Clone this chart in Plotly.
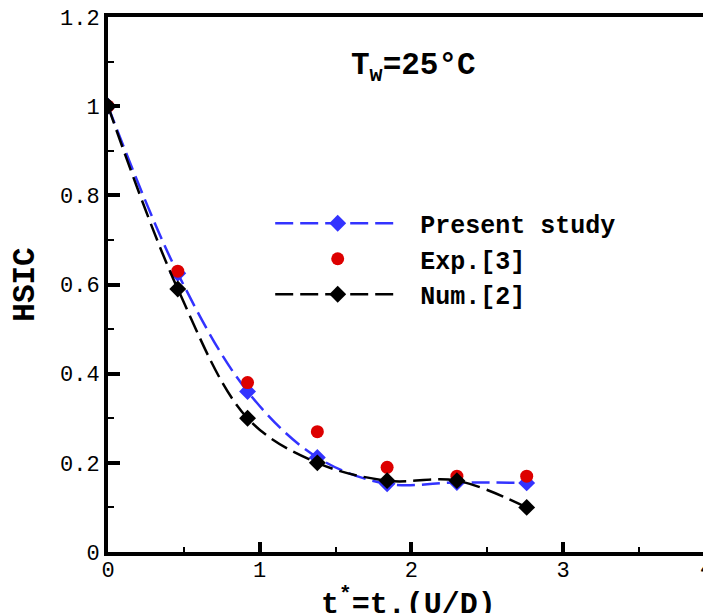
import plotly.graph_objects as go

t_star = [0.0, 0.46, 0.92, 1.38, 1.84, 2.30, 2.76]
present_study = [1.0, 0.625, 0.36, 0.212, 0.153, 0.156, 0.155]
exp3 = [1.0, 0.63, 0.38, 0.27, 0.19, 0.17, 0.17]
num2 = [1.0, 0.59, 0.30, 0.20, 0.16, 0.16, 0.10]

y_tickvals = [0, 0.2, 0.4, 0.6, 0.8, 1.0, 1.2]
y_ticktext = ["0", "0.2", "0.4", "0.6", "0.8", "1", "1.2"]
x_tickvals = [0, 1, 2, 3]
x_ticktext = ["0", "1", "2", "3"]

MONO = "Liberation Mono, Courier New, monospace"

fig = go.Figure()
fig.add_trace(go.Scatter(
    x=t_star, y=present_study, name="&nbsp;Present study",
    mode="lines+markers", line=dict(color="#3333ff", width=2.5, dash="18px,7px", shape="spline"),
    marker=dict(symbol="diamond", size=13, color="#3333ff"),
))
fig.add_trace(go.Scatter(
    x=t_star, y=exp3, name="&nbsp;Exp.[3]", mode="markers",
    marker=dict(symbol="circle", size=13, color="#dd0000"),
))
fig.add_trace(go.Scatter(
    x=t_star, y=num2, name="&nbsp;Num.[2]",
    mode="lines+markers", line=dict(color="black", width=2.5, dash="18px,7px", shape="spline"),
    marker=dict(symbol="diamond", size=13, color="black"),
))

fig.update_layout(
    width=703, height=605,
    margin=dict(l=100, r=0, t=9, b=61),
    plot_bgcolor="white", paper_bgcolor="white",
    showlegend=True,
    legend=dict(
        x=0.269, y=0.657, xanchor="left", yanchor="top",
        bgcolor="rgba(0,0,0,0)", itemwidth=125,
        font=dict(family=MONO, size=25, color="black", weight="bold"),
        tracegroupgap=0,
    ),
    xaxis=dict(
        range=[0, 3.975], tickvals=x_tickvals, ticktext=x_ticktext, automargin=False,
        ticks="inside", ticklen=10, tickwidth=4, tickcolor="black",
        showline=True, linewidth=4, linecolor="black", mirror=True,
        showgrid=False, zeroline=False, ticklabelstandoff=-5,
        minor=dict(ticks="inside", dtick=0.5, ticklen=5, tickwidth=2, tickcolor="black"),
        tickfont=dict(family=MONO, size=22, color="black"),
    ),
    yaxis=dict(
        range=[0, 1.2], tickvals=y_tickvals, ticktext=y_ticktext, automargin=False,
        ticks="inside", ticklen=12, tickwidth=4, tickcolor="black",
        showline=True, linewidth=4, linecolor="black",
        showgrid=False, zeroline=False, ticklabeloverflow="allow",
        minor=dict(ticks="inside", dtick=0.1, ticklen=6, tickwidth=2, tickcolor="black"),
        tickfont=dict(family=MONO, size=22, color="black"),
        title=dict(text="HSIC", font=dict(family=MONO, size=31, color="black", weight="bold"), standoff=17),
    ),
)

# x-axis title (placed below the tick labels, partially cut by the page edge as in the original)
fig.add_annotation(
    xref="paper", yref="paper", x=0.499, y=0, yanchor="middle", yshift=-50, showarrow=False,
    text="t<sup>*</sup>=t.(U/D)",
    font=dict(family=MONO, size=30, color="black", weight="bold"),
)
fig.add_annotation(
    xref="paper", yref="paper", x=0.506, y=0.945, showarrow=False,
    text="T<sub>w</sub>=25°C",
    font=dict(family=MONO, size=31, color="black", weight="bold"),
)
fig.add_annotation(
    xref="paper", yref="paper", x=1.0066, y=0, yanchor="top", yshift=-3, showarrow=False,
    text="4", font=dict(family=MONO, size=22, color="black"),
)
fig.add_shape(type="line", xref="paper", yref="paper", x0=0.9985, x1=0.9985, y0=0, y1=1,
              line=dict(color="#bbbbbb", width=1))

fig.write_html("out.html")
